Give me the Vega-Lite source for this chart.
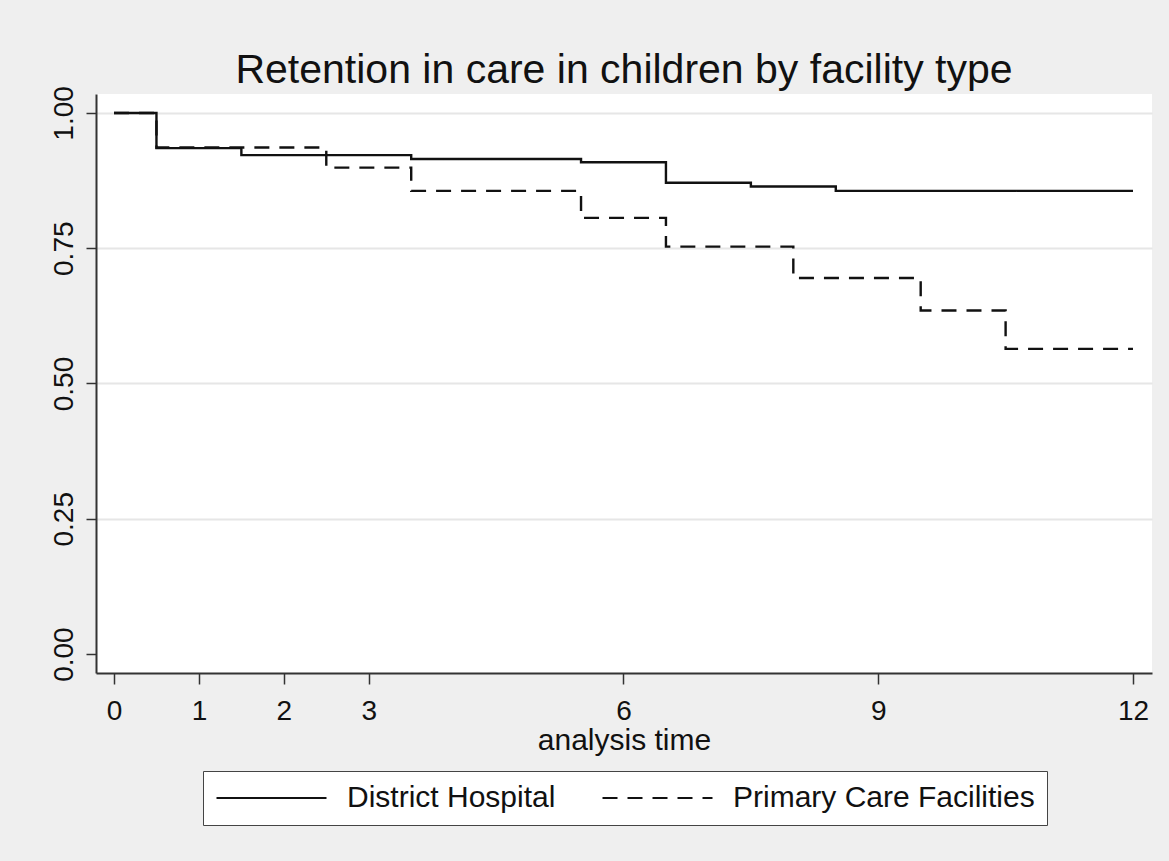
{
  "$schema": "https://vega.github.io/schema/vega-lite/v6.json",
  "width": 1056,
  "height": 579,
  "autosize": {"type": "none"},
  "padding": {"left": 96, "top": 94, "right": 17, "bottom": 188},
  "background": "#efefef",
  "title": {
    "text": "Retention in care in children by facility type",
    "fontSize": 41,
    "font": "Liberation Sans",
    "fontWeight": "normal",
    "color": "#111111",
    "anchor": "middle",
    "baseline": "alphabetic",
    "offset": -38
  },
  "data": {
    "values": [
      {"time": 0, "surv": 1.0, "group": "District Hospital"},
      {"time": 0.5, "surv": 0.935, "group": "District Hospital"},
      {"time": 1.5, "surv": 0.922, "group": "District Hospital"},
      {"time": 3.5, "surv": 0.915, "group": "District Hospital"},
      {"time": 5.5, "surv": 0.909, "group": "District Hospital"},
      {"time": 6.5, "surv": 0.871, "group": "District Hospital"},
      {"time": 7.5, "surv": 0.864, "group": "District Hospital"},
      {"time": 8.5, "surv": 0.856, "group": "District Hospital"},
      {"time": 12, "surv": 0.856, "group": "District Hospital"},
      {"time": 0, "surv": 1.0, "group": "Primary Care Facilities"},
      {"time": 0.5, "surv": 0.936, "group": "Primary Care Facilities"},
      {"time": 2.5, "surv": 0.899, "group": "Primary Care Facilities"},
      {"time": 3.5, "surv": 0.856, "group": "Primary Care Facilities"},
      {"time": 5.5, "surv": 0.806, "group": "Primary Care Facilities"},
      {"time": 6.5, "surv": 0.753, "group": "Primary Care Facilities"},
      {"time": 8.0, "surv": 0.695, "group": "Primary Care Facilities"},
      {"time": 9.5, "surv": 0.635, "group": "Primary Care Facilities"},
      {"time": 10.5, "surv": 0.564, "group": "Primary Care Facilities"},
      {"time": 12, "surv": 0.564, "group": "Primary Care Facilities"}
    ]
  },
  "mark": {"type": "line", "interpolate": "step-after", "strokeWidth": 2.4, "color": "#111111"},
  "encoding": {
    "x": {
      "field": "time",
      "type": "quantitative",
      "scale": {"domain": [-0.212, 12.224], "nice": false, "zero": false},
      "axis": {
        "values": [0, 1, 2, 3, 6, 9, 12],
        "title": "analysis time",
        "grid": false,
        "labelFontSize": 28,
        "labelFont": "Liberation Sans",
        "labelColor": "#111111",
        "labelPadding": 13,
        "tickSize": 11,
        "tickWidth": 1.5,
        "tickColor": "#333333",
        "domainColor": "#333333",
        "domainWidth": 2,
        "titleFontSize": 30,
        "titleFont": "Liberation Sans",
        "titleFontWeight": "normal",
        "titleColor": "#111111",
        "titlePadding": 0,
        "labelFlush": false
      }
    },
    "y": {
      "field": "surv",
      "type": "quantitative",
      "scale": {"domain": [-0.035, 1.035], "nice": false, "zero": false},
      "axis": {
        "values": [0, 0.25, 0.5, 0.75, 1],
        "format": ".2f",
        "title": null,
        "grid": true,
        "gridColor": "#e6e6e6",
        "gridWidth": 2,
        "gridOpacity": {"condition": {"test": "datum.value == 0", "value": 0}, "value": 1},
        "labelAngle": -90,
        "labelAlign": "center",
        "labelBaseline": "alphabetic",
        "labelFontSize": 28,
        "labelFont": "Liberation Sans",
        "labelColor": "#111111",
        "labelPadding": 14,
        "tickSize": 10,
        "tickWidth": 1.5,
        "tickColor": "#333333",
        "domainColor": "#333333",
        "domainWidth": 2,
        "labelFlush": false
      }
    },
    "strokeDash": {
      "field": "group",
      "type": "nominal",
      "scale": {"domain": ["District Hospital", "Primary Care Facilities"], "range": [[1, 0], [15, 10]]},
      "legend": {
        "title": null,
        "orient": "none",
        "legendX": 107,
        "legendY": 677,
        "direction": "horizontal",
        "columns": 2,
        "symbolType": "stroke",
        "symbolSize": 12100,
        "symbolStrokeWidth": 2.2,
        "symbolStrokeColor": "#111111",
        "clipHeight": 30,
        "labelFontSize": 30,
        "labelFont": "Liberation Sans",
        "labelColor": "#111111",
        "labelOffset": 19,
        "labelLimit": 600,
        "columnPadding": 45,
        "padding": 12,
        "strokeColor": "#444444",
        "fillColor": "white"
      }
    }
  },
  "config": {
    "view": {"fill": "white", "stroke": null}
  }
}
